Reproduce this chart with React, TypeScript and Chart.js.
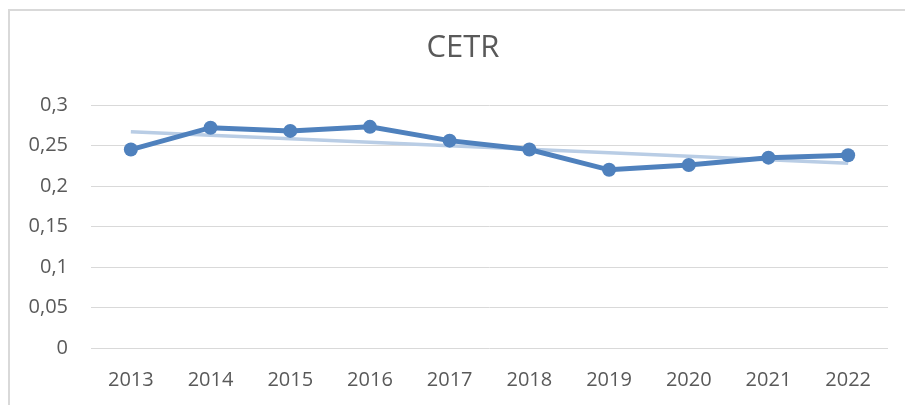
import React, { useEffect, useRef } from "react";
import { Chart, registerables } from "chart.js";

Chart.register(...registerables);

const categories = ["2013", "2014", "2015", "2016", "2017", "2018", "2019", "2020", "2021", "2022"];
const cetrValues = [0.245, 0.272, 0.268, 0.273, 0.256, 0.245, 0.22, 0.226, 0.235, 0.238];
const trendValues = [0.267, null, null, null, null, null, null, null, null, 0.228];
const yMin = 0;
const yMax = 0.3;
const yStep = 0.05;
const titleText = "CETR";

const FONT = "'Open Sans', 'Noto Sans', sans-serif";
const TEXT = "#595959";
const GRID = "#d9d9d9";
const LINE = "#4f81bd";
const TREND = "#b9cde5";

const titlePlugin = {
  id: "offsetTitle",
  afterDraw(chart: any) {
    const ctx = chart.ctx;
    ctx.save();
    ctx.fillStyle = TEXT;
    ctx.font = `normal 31px ${FONT}`;
    ctx.textAlign = "center";
    ctx.textBaseline = "middle";
    ctx.fillText(titleText, chart.width / 2 + 10.5, 48);
    ctx.restore();
  },
};

export default function App() {
  const ref = useRef<HTMLCanvasElement | null>(null);

  useEffect(() => {
    if (!ref.current) return;
    const chart = new Chart(ref.current, {
      type: "line",
      data: {
        labels: categories,
        datasets: [
          {
            label: "CETR",
            data: cetrValues,
            borderColor: LINE,
            backgroundColor: LINE,
            borderWidth: 5,
            pointRadius: 7,
            pointBorderWidth: 0,
            pointBackgroundColor: LINE,
            tension: 0,
          },
          {
            label: "Trend",
            data: trendValues,
            borderColor: TREND,
            borderWidth: 3.5,
            pointRadius: 0,
            spanGaps: true,
            tension: 0,
          },
        ],
      },
      options: {
        responsive: false,
        animation: false,
        devicePixelRatio: 1,
        layout: { padding: { left: 0, right: 17, top: 105, bottom: 0 } },
        plugins: {
          legend: { display: false },
          tooltip: { enabled: false },
          title: { display: false },
        },
        scales: {
          x: {
            offset: true,
            grid: { display: false, drawTicks: false },
            border: { display: false },
            ticks: {
              color: TEXT,
              font: { family: FONT, size: 20 },
              padding: 20,
              maxRotation: 0,
              autoSkip: false,
            },
            afterFit: (scale: any) => {
              scale.height = 57;
            },
          },
          y: {
            min: yMin,
            max: yMax,
            grid: { color: GRID, lineWidth: 1, drawTicks: false },
            border: { display: false },
            ticks: {
              stepSize: yStep,
              color: TEXT,
              font: { family: FONT, size: 20 },
              padding: 23,
              callback: (v: any) => String(Number(Number(v).toFixed(2))).replace(".", ","),
            },
            afterFit: (scale: any) => {
              scale.width = 91;
            },
          },
        },
      },
      plugins: [titlePlugin],
    });
    return () => chart.destroy();
  }, []);

  return (
    <div
      style={{
        position: "fixed",
        left: 0,
        top: 0,
        width: 905,
        height: 405,
        overflow: "hidden",
        background: "#fff",
      }}
    >
      <div
        style={{
          position: "absolute",
          left: 8,
          top: 9,
          width: 1200,
          height: 1000,
          borderLeft: `2px solid ${GRID}`,
          borderTop: `2px solid ${GRID}`,
        }}
      />
      <canvas
        ref={ref}
        width={905}
        height={405}
        style={{ position: "absolute", left: 0, top: 0, width: 905, height: 405 }}
      />
    </div>
  );
}
